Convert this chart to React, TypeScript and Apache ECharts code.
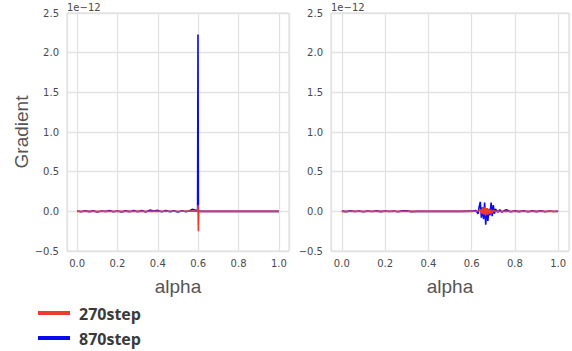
import React, { useEffect, useRef } from "react";
import * as echarts from "echarts";

// Values are in units of 1e-12
const alphaLeft870 = [0, 0.02, 0.04, 0.06, 0.08, 0.1, 0.12, 0.14, 0.16, 0.18, 0.2, 0.22, 0.24, 0.26, 0.28, 0.3, 0.32, 0.34, 0.36, 0.38, 0.4, 0.42, 0.44, 0.46, 0.48, 0.5, 0.52, 0.54, 0.56, 0.57, 0.58, 0.59, 0.597, 0.599, 0.601, 0.605, 0.62, 0.7, 0.8, 0.9, 1.0];
const gradLeft870 = [0.004, -0.006, 0.008, -0.004, 0.006, -0.008, 0.005, -0.003, 0.009, -0.005, 0.004, -0.007, 0.006, -0.004, 0.01, -0.006, 0.012, -0.008, 0.015, 0.004, 0.012, -0.006, 0.01, -0.004, 0.006, -0.008, 0.007, -0.005, 0.01, 0.025, 0.02, 0.01, 0.0, 2.23, 0.0, 0.0, 0.0, 0.0, 0.0, 0.0, 0.0];

const alphaLeft270 = [0, 0.1, 0.2, 0.3, 0.4, 0.5, 0.59, 0.597, 0.599, 0.601, 0.603, 0.62, 0.7, 0.8, 0.9, 1.0];
const gradLeft270 = [0.0, 0.001, -0.001, 0.001, -0.001, 0.001, 0.002, 0.0, 0.08, -0.25, 0.0, 0.0, 0.0, 0.0, 0.0, 0.0];

const alphaRight870 = [0, 0.02, 0.04, 0.06, 0.08, 0.1, 0.12, 0.14, 0.16, 0.18, 0.2, 0.22, 0.24, 0.26, 0.28, 0.3, 0.32, 0.35, 0.4, 0.45, 0.5, 0.55, 0.6, 0.62, 0.63, 0.635, 0.64, 0.645, 0.65, 0.655, 0.66, 0.665, 0.67, 0.675, 0.68, 0.685, 0.69, 0.695, 0.7, 0.705, 0.71, 0.72, 0.73, 0.74, 0.75, 0.76, 0.78, 0.8, 0.82, 0.84, 0.86, 0.88, 0.9, 0.92, 0.94, 0.96, 0.98, 1.0];
const gradRight870 = [0.003, -0.004, 0.006, -0.003, 0.005, -0.006, 0.004, -0.003, 0.006, -0.004, 0.005, -0.003, 0.004, -0.005, 0.006, 0.008, -0.004, 0.0, 0.0, 0.0, 0.0, 0.0, 0.002, 0.01, -0.03, 0.06, 0.12, -0.08, 0.05, -0.1, 0.11, -0.17, 0.04, -0.12, 0.03, -0.05, 0.11, -0.06, 0.08, -0.03, 0.03, -0.01, 0.02, -0.01, 0.008, 0.02, -0.005, 0.006, -0.004, 0.008, -0.005, 0.006, -0.004, 0.007, -0.005, 0.004, -0.003, 0.002];

const alphaRight270 = [0, 0.2, 0.4, 0.6, 0.63, 0.64, 0.645, 0.65, 0.655, 0.66, 0.665, 0.67, 0.675, 0.68, 0.685, 0.69, 0.695, 0.7, 0.71, 0.72, 0.8, 0.9, 1.0];
const gradRight270 = [0.0, 0.0, 0.0, 0.0, 0.005, 0.02, -0.03, 0.04, -0.04, 0.05, -0.05, 0.04, -0.04, 0.03, -0.03, 0.02, -0.02, 0.01, 0.0, 0.0, 0.0, 0.0, 0.0];

const seriesNames = ["270step", "870step"];
const seriesColors = ["#ef3b2c", "#0a0af0"];
const yTicks = [-0.5, 0.0, 0.5, 1.0, 1.5, 2.0, 2.5];

const pairs = (xs: number[], ys: number[]) => xs.map((x, i) => [x, ys[i]]);

export default function App() {
  const ref = useRef<HTMLDivElement>(null);
  useEffect(() => {
    if (!ref.current) return;
    const chart = echarts.init(ref.current, null, { renderer: "svg" });
    const tickColor = "#4a4a4a";
    const gridColor = "#e2e2e2";
    const xAxisCommon = {
      type: "value",
      min: -0.05,
      max: 1.05,
      splitNumber: 5,
      axisLine: { show: false },
      axisTick: { show: false },
      splitLine: { show: true, lineStyle: { color: gridColor, width: 1.3 } },
      axisLabel: {
        color: tickColor,
        fontSize: 10,
        fontFamily: "DejaVu Sans",
        margin: 7,
        formatter: (v: number) =>
          Math.abs(v * 5 - Math.round(v * 5)) < 1e-6 ? v.toFixed(1) : "",
      },
    };
    const yAxisCommon = {
      type: "value",
      min: yTicks[0],
      max: yTicks[yTicks.length - 1],
      interval: 0.5,
      axisLine: { show: false },
      axisTick: { show: false },
      splitLine: { show: true, lineStyle: { color: gridColor, width: 1.3 } },
      axisLabel: {
        color: tickColor,
        fontSize: 10,
        fontFamily: "DejaVu Sans",
        margin: 8,
        formatter: (v: number) => (v < 0 ? "\u2212" + Math.abs(v).toFixed(1) : v.toFixed(1)),
      },
    };
    const nameStyle = { fontSize: 19, color: "#555555", fontFamily: "Liberation Sans" };
    const legendItems = seriesNames.flatMap((name, i) => [
      { type: "rect", shape: { x: 38, y: 311 + i * 25, width: 32, height: 4 }, style: { fill: seriesColors[i] } },
      { type: "text", x: 79, y: 314 + i * 25, style: { text: name, fontSize: 16, fontWeight: "bold", fill: "#3a3a3a", fontFamily: "Open Sans", verticalAlign: "middle" } },
    ]);
    chart.setOption({
      animation: false,
      backgroundColor: "#ffffff",
      grid: [
        { left: 67, top: 13, width: 222, height: 238, show: true, borderColor: "#dcdcdc", borderWidth: 1, backgroundColor: "transparent" },
        { left: 331, top: 13, width: 242, height: 238, show: true, borderColor: "#dcdcdc", borderWidth: 1, backgroundColor: "transparent" },
      ],
      xAxis: [
        { ...xAxisCommon, gridIndex: 0, name: "alpha", nameLocation: "middle", nameGap: 26, nameTextStyle: nameStyle },
        { ...xAxisCommon, gridIndex: 1, name: "alpha", nameLocation: "middle", nameGap: 26, nameTextStyle: nameStyle },
      ],
      yAxis: [
        { ...yAxisCommon, gridIndex: 0, name: "Gradient", nameLocation: "middle", nameGap: 33, nameTextStyle: nameStyle },
        { ...yAxisCommon, gridIndex: 1 },
      ],
      graphic: [
        { type: "text", left: 67, top: 2, style: { text: "1e\u221212", fontSize: 10, fill: tickColor, fontFamily: "DejaVu Sans" } },
        { type: "text", left: 331, top: 2, style: { text: "1e\u221212", fontSize: 10, fill: tickColor, fontFamily: "DejaVu Sans" } },
        ...legendItems,
      ],
      series: [
        { name: seriesNames[1], type: "line", xAxisIndex: 0, yAxisIndex: 0, data: pairs(alphaLeft870, gradLeft870), showSymbol: false, lineStyle: { color: seriesColors[1], width: 1.6 }, itemStyle: { color: seriesColors[1] } },
        { name: seriesNames[0], type: "line", xAxisIndex: 0, yAxisIndex: 0, data: pairs(alphaLeft270, gradLeft270), showSymbol: false, lineStyle: { color: seriesColors[0], width: 1.6 }, itemStyle: { color: seriesColors[0] } },
        { name: seriesNames[1], type: "line", xAxisIndex: 1, yAxisIndex: 1, data: pairs(alphaRight870, gradRight870), showSymbol: false, lineStyle: { color: seriesColors[1], width: 1.6 }, itemStyle: { color: seriesColors[1] } },
        { name: seriesNames[0], type: "line", xAxisIndex: 1, yAxisIndex: 1, data: pairs(alphaRight270, gradRight270), showSymbol: false, lineStyle: { color: seriesColors[0], width: 1.6 }, itemStyle: { color: seriesColors[0] } },
      ],
    });
    return () => chart.dispose();
  }, []);
  return (
    <div
      ref={ref}
      style={{ position: "fixed", left: 0, top: 0, width: 572, height: 351, background: "#fff" }}
    />
  );
}
